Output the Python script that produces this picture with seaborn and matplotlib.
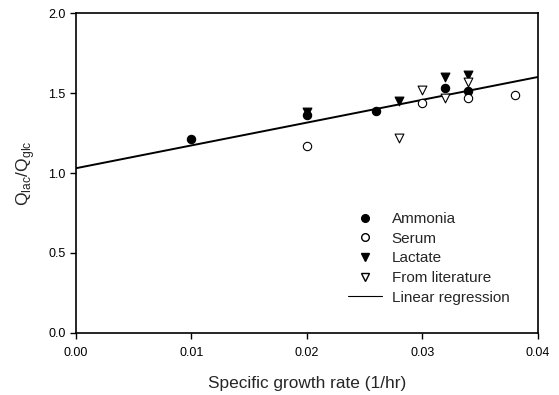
import matplotlib
matplotlib.use("Agg")
import matplotlib.pyplot as plt
import seaborn as sns
import pandas as pd
from matplotlib.lines import Line2D

sns.set_style("ticks")
plt.rcParams['font.family'] = ['Liberation Sans', 'DejaVu Sans']

ammonia_x = [0.010, 0.020, 0.026, 0.032, 0.034]
ammonia_y = [1.21, 1.36, 1.39, 1.53, 1.51]
serum_x = [0.020, 0.030, 0.034, 0.038]
serum_y = [1.17, 1.435, 1.47, 1.49]
lactate_x = [0.020, 0.028, 0.032, 0.034]
lactate_y = [1.38, 1.45, 1.60, 1.61]
lit_x = [0.028, 0.030, 0.032, 0.034]
lit_y = [1.22, 1.52, 1.47, 1.57]
reg_x = [0.0, 0.04]
reg_y = [1.03, 1.60]

fig = plt.figure(figsize=(5.59, 3.95), dpi=100)
ax = fig.add_axes([0.136, 0.157, 0.826, 0.810])

sns.lineplot(x=reg_x, y=reg_y, ax=ax, color='black', linewidth=1.4, label=None)
sns.scatterplot(x=ammonia_x, y=ammonia_y, ax=ax, marker='o', s=36,
                color='black', edgecolor='black', linewidth=0.8, zorder=3)
sns.scatterplot(x=serum_x, y=serum_y, ax=ax, marker='o', s=36,
                facecolor='white', edgecolor='black', linewidth=0.8, zorder=3)
sns.scatterplot(x=lactate_x, y=lactate_y, ax=ax, marker='v', s=40,
                color='black', edgecolor='black', linewidth=0.8, zorder=3)
sns.scatterplot(x=lit_x, y=lit_y, ax=ax, marker='v', s=40,
                facecolor='white', edgecolor='black', linewidth=0.8, zorder=3)

ax.set_xlim(0, 0.04)
ax.set_ylim(0, 2.0)
ax.set_xticks([0.00, 0.01, 0.02, 0.03, 0.04])
ax.set_xticklabels(['0.00', '0.01', '0.02', '0.03', '0.04'])
ax.set_yticks([0.0, 0.5, 1.0, 1.5, 2.0])
ax.set_yticklabels(['0.0', '0.5', '1.0', '1.5', '2.0'])
ax.tick_params(direction='out', length=4, width=1, labelsize=9, colors='black')
ax.tick_params(axis='x', pad=6)
for sp in ax.spines.values():
    sp.set_visible(True)
    sp.set_linewidth(1.2)
    sp.set_color('black')

ax.set_xlabel('Specific growth rate (1/hr)', fontsize=12.4, labelpad=12)
ax.set_ylabel(r'Q$_{\mathregular{lac}}$/Q$_{\mathregular{glc}}$', fontsize=12.5, labelpad=8)

handles = [
    Line2D([], [], marker='o', linestyle='none', color='black', markersize=5.5),
    Line2D([], [], marker='o', linestyle='none', markerfacecolor='white', markeredgecolor='black', markersize=5.5),
    Line2D([], [], marker='v', linestyle='none', color='black', markersize=5.5),
    Line2D([], [], marker='v', linestyle='none', markerfacecolor='white', markeredgecolor='black', markersize=5.5),
    Line2D([], [], color='black', linewidth=0.8),
]
labels = ['Ammonia', 'Serum', 'Lactate', 'From literature', 'Linear regression']
ax.legend(handles, labels, loc='upper left', bbox_to_anchor=(0.589, 0.378),
          frameon=False, fontsize=11, handlelength=2.2, handletextpad=0.65,
          labelspacing=0.37, borderaxespad=0, borderpad=0)

fig.savefig('out.png', dpi=100)
